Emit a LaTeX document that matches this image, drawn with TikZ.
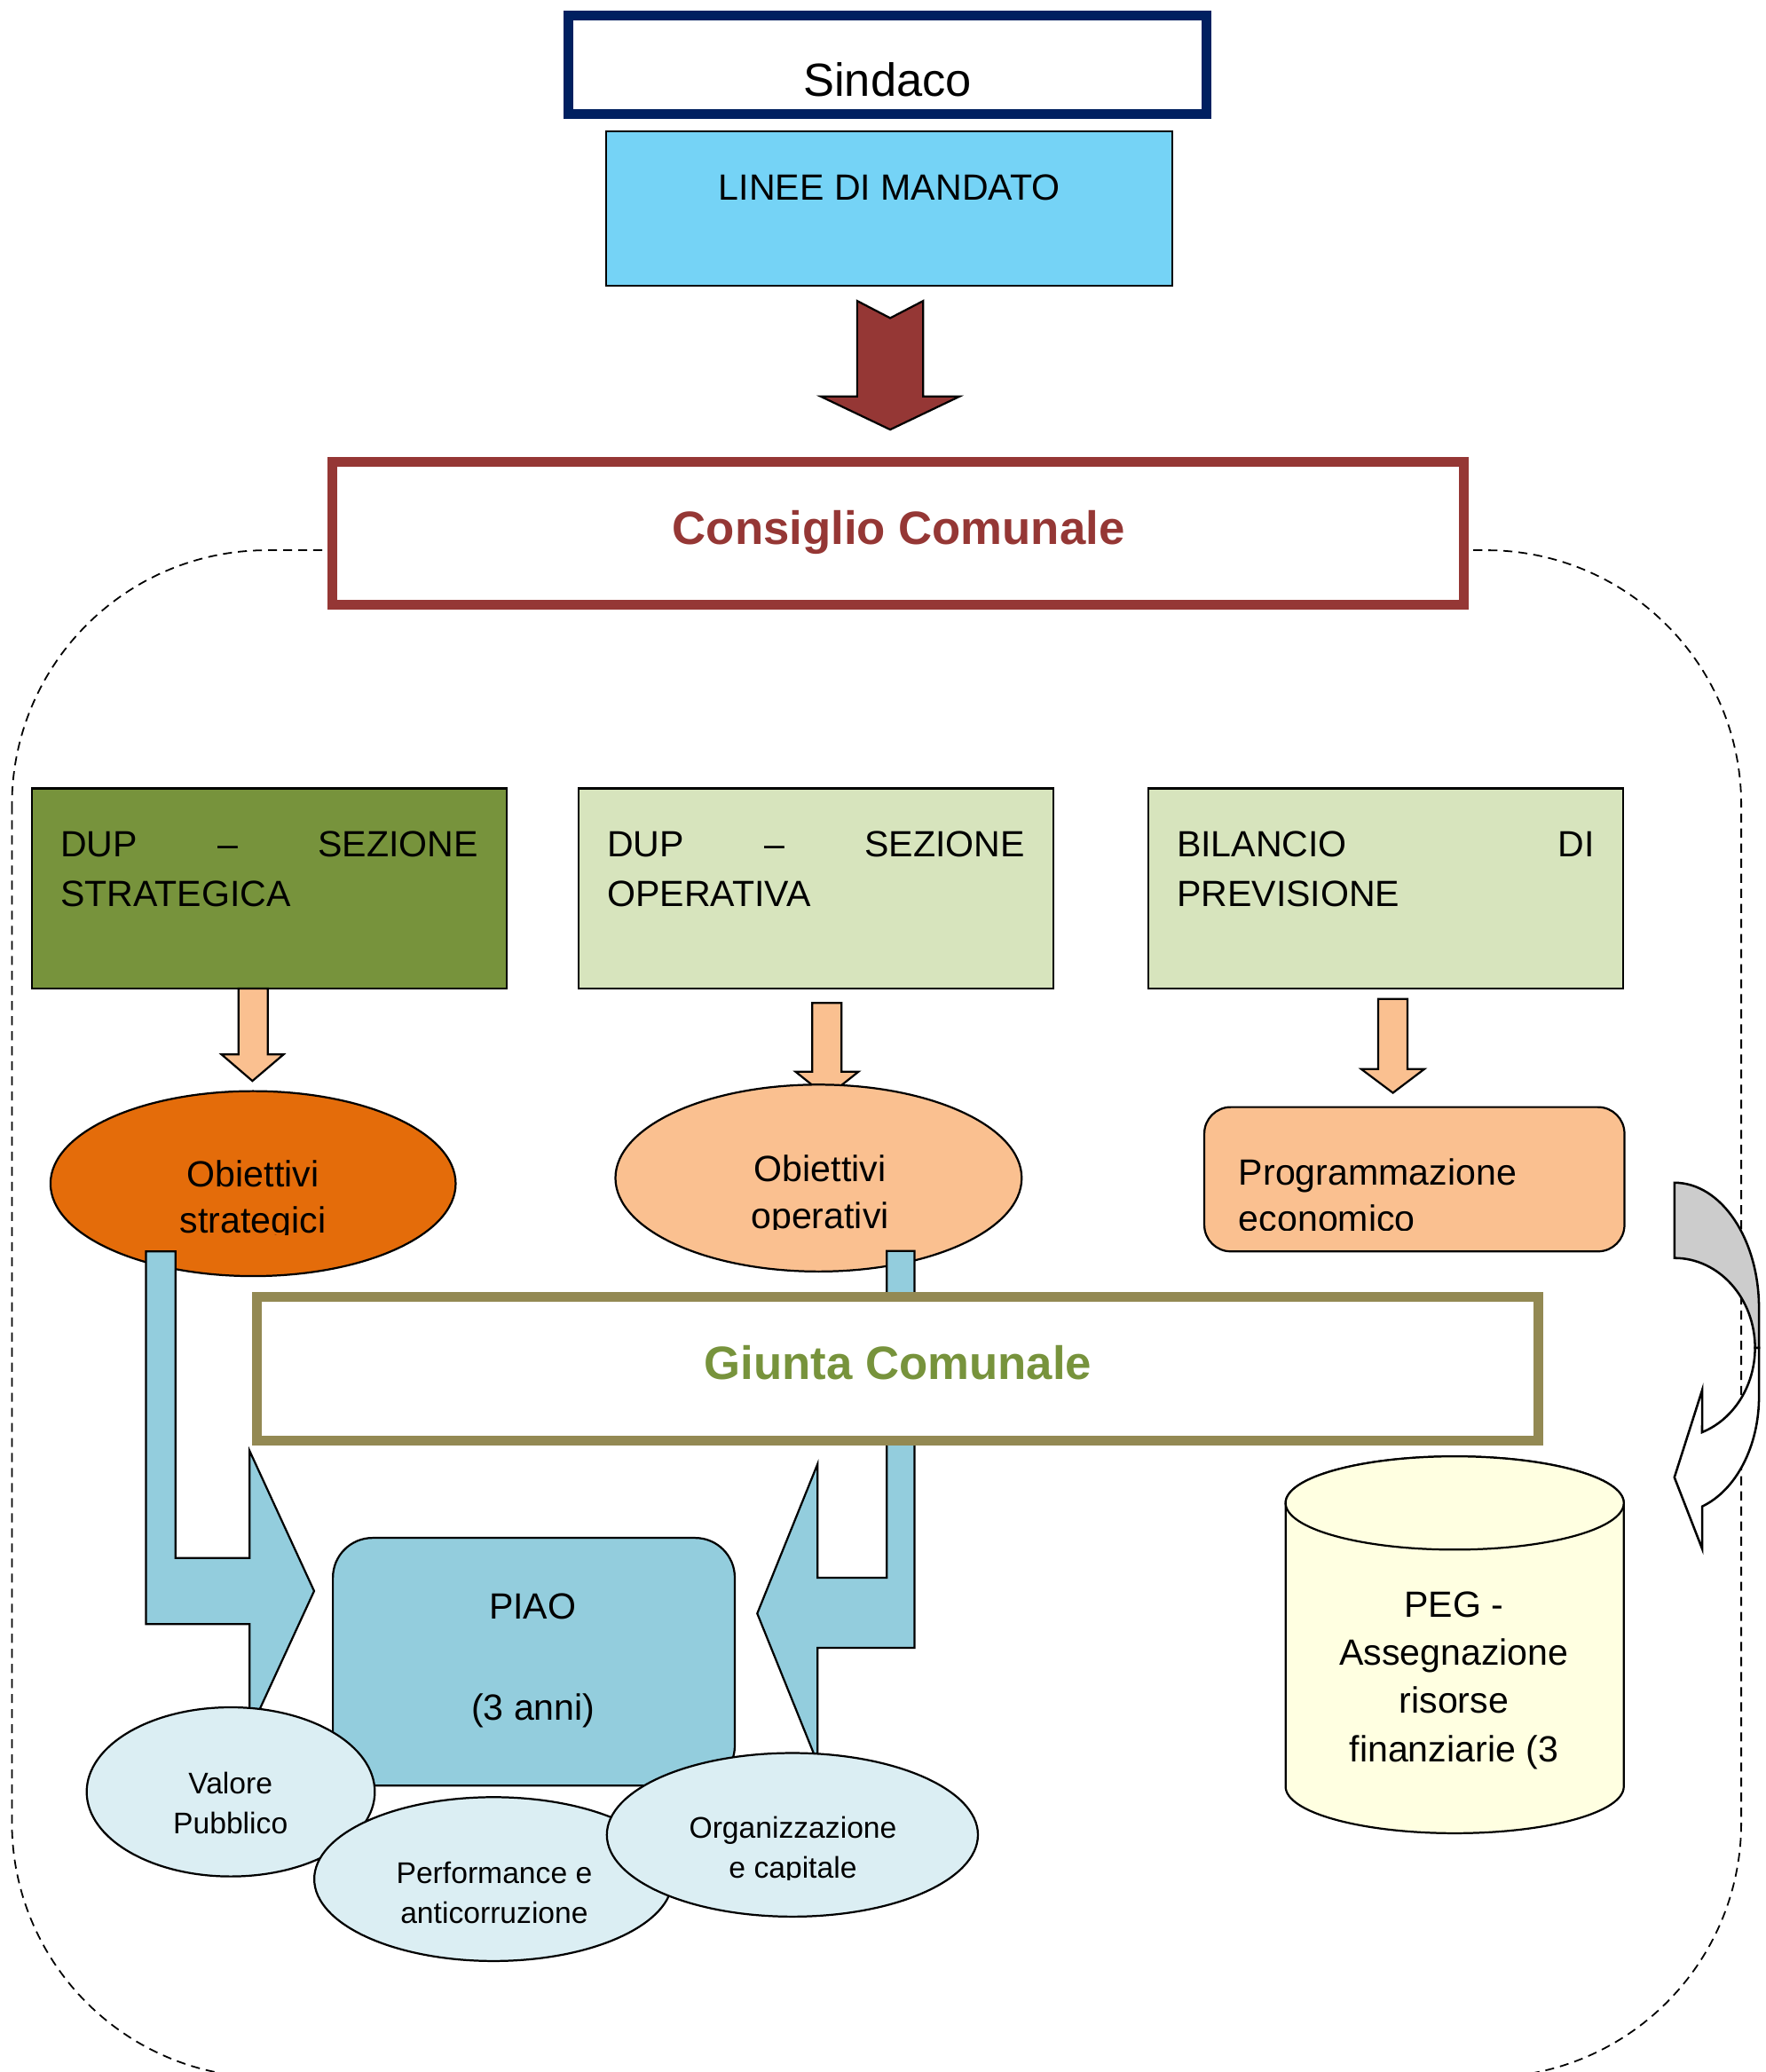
\documentclass[tikz,border=0pt]{standalone}
\usepackage{fontspec}
\setmainfont{Liberation Sans}
\usetikzlibrary{shapes.geometric}
\definecolor{navy}{RGB}{0,32,96}
\definecolor{skyb}{RGB}{117,211,246}
\definecolor{dred}{RGB}{149,55,53}
\definecolor{olivegr}{RGB}{119,147,60}
\definecolor{lgreen}{RGB}{215,228,189}
\definecolor{peach}{RGB}{250,192,144}
\definecolor{orng}{RGB}{228,108,10}
\definecolor{khaki}{RGB}{147,137,83}
\definecolor{pblue}{RGB}{147,205,221}
\definecolor{iceb}{RGB}{219,238,243}
\definecolor{cream}{RGB}{255,255,225}
\definecolor{lgray}{RGB}{204,204,204}
\newcommand\bigfs{\fontsize{17.7pt}{21pt}\selectfont}
\newcommand\midfs{\fontsize{13.8pt}{18pt}\selectfont}
\newcommand\smfs{\fontsize{11.3pt}{15pt}\selectfont}
\tikzset{
  every node/.style={outer sep=0pt},
  outl/.style={draw=black, line width=0.75pt, line join=miter},
  boxnode/.style={outl, rectangle, inner sep=0pt, outer sep=0pt, anchor=north west},
  heavybox/.style={rectangle, inner sep=0pt, outer sep=0pt, anchor=north west, fill=white, line width=3.7pt},
  ellnode/.style={outl, ellipse, inner sep=0pt, outer sep=0pt},
  txt/.style={inner sep=0pt, anchor=base},
  txtl/.style={inner sep=0pt, anchor=base west},
  blockarrow/.style={outl},
}
\begin{document}
\begin{tikzpicture}[x=0.5pt,y=-0.5pt]
\useasboundingbox (0,0) rectangle (1336,1568);
\clip (0,0) rectangle (1336,1568);

% dashed rounded frame
\draw[black, line width=0.6pt, dash pattern=on 3.4pt off 2.3pt, rounded corners=96.5pt]
  (9,416.4) rectangle (1317.6,1572);

% Sindaco
\node[heavybox, draw=navy, minimum width=241.7pt, minimum height=37.2pt] (sindaco) at (429.8,11.8) {};
\node[txt] (sindacot) at (671.5,72.8) {\fontsize{17.6pt}{21pt}\selectfont Sindaco};

% Linee di mandato
\node[boxnode, fill=skyb, minimum width=214.1pt, minimum height=58.2pt] (linee) at (458.8,99.6) {};
\node[txt] (lineet) at (673,151.2) {\midfs LINEE DI MANDATO};

% red down arrow
\draw[blockarrow, fill=dred] (648.6,227.7) -- (673.6,240.7) -- (698.6,227.7) -- (698.6,300)
  -- (726.1,300) -- (673.6,325.1) -- (621,300) -- (648.6,300) -- cycle;

% Consiglio Comunale
\node[heavybox, draw=dred, minimum width=428.1pt, minimum height=54.1pt] (consiglio) at (251.7,349.6) {};
\node[txt, text=dred] (consigliot) at (680,412) {\bigfs\bfseries Consiglio Comunale};

% three top boxes
\node[boxnode, fill=olivegr, minimum width=179.5pt, minimum height=75.6pt] (dups) at (24.2,596.7) {};
\node[boxnode, fill=lgreen, minimum width=179.5pt, minimum height=75.6pt] (dupo) at (438,596.7) {};
\node[boxnode, fill=lgreen, minimum width=179.5pt, minimum height=75.6pt] (bil) at (869,596.7) {};
\node[txtl] (dupst1) at (45.7,648.2) {\midfs\hbox to 158pt{DUP\hfill–\hfill SEZIONE}};
\node[txtl] (dupst2) at (45.7,686.2) {\midfs STRATEGICA};
\node[txtl] (dupot1) at (459.5,648.2) {\midfs\hbox to 158pt{DUP\hfill–\hfill SEZIONE}};
\node[txtl] (dupot2) at (459.5,686.2) {\midfs OPERATIVA};
\node[txtl] (bilt1) at (890.5,648.2) {\midfs\hbox to 158pt{BILANCIO\hfill DI}};
\node[txtl] (bilt2) at (890.5,686.2) {\midfs PREVISIONE};

% peach arrows
\draw[blockarrow, fill=peach] (180.5,748) -- (202.6,748) -- (202.6,798) -- (214.5,798) -- (191,818)
  -- (167.7,798) -- (180.5,798) -- cycle;
\draw[blockarrow, fill=peach] (614.6,759) -- (636.8,759) -- (636.8,811) -- (649.6,811) -- (625.7,830)
  -- (602,811) -- (614.6,811) -- cycle;
\draw[blockarrow, fill=peach] (1042.8,756) -- (1065,756) -- (1065,809) -- (1077.8,809) -- (1054,827)
  -- (1030,809) -- (1042.8,809) -- cycle;

% objectives
\node[ellnode, fill=orng, minimum width=153.3pt, minimum height=70pt] (ostr) at (191.5,895.7) {};
\node[ellnode, fill=peach, minimum width=153.7pt, minimum height=70.7pt] (oope) at (619.4,891.5) {};
\node[boxnode, fill=peach, rounded corners=10pt, minimum width=158.95pt, minimum height=54.6pt] (prog) at (911.3,837.8) {};
\begin{scope}
  \clip (30,850) rectangle (360,934.5);
  \node[txt] (ostrt1) at (191.5,898) {\midfs Obiettivi};
  \node[txt] (ostrt2) at (191.5,933) {\midfs strategici};
\end{scope}
\begin{scope}
  \clip (460,850) rectangle (780,930.5);
  \node[txt] (oopet1) at (620.5,894) {\midfs Obiettivi};
  \node[txt] (oopet2) at (620.5,929.5) {\midfs operativi};
\end{scope}
\begin{scope}
  \clip (915,850) rectangle (1225,931);
  \node[txtl] (progt1) at (937.4,897) {\midfs Programmazione};
  \node[txtl] (progt2) at (937.4,932) {\midfs economico};
\end{scope}

% blue bent arrows
\draw[blockarrow, fill=pblue] (110.5,947) -- (132.8,947) -- (132.8,1179) -- (188.9,1179) -- (188.9,1098)
  -- (237.7,1204) -- (188.9,1310) -- (188.9,1229) -- (110.5,1229) -- cycle;
\draw[blockarrow, fill=pblue] (692,946.7) -- (671,946.7) -- (671,1194) -- (618.6,1194) -- (618.6,1108)
  -- (573,1221) -- (618.6,1334) -- (618.6,1247) -- (692,1247) -- cycle;

% Giunta Comunale
\node[heavybox, draw=khaki, minimum width=484.8pt, minimum height=54.1pt] (giunta) at (194.3,981.7) {};
\node[txt, text=olivegr] (giuntat) at (679.5,1044) {\bigfs\bfseries Giunta Comunale};

% PIAO
\node[boxnode, fill=pblue, rounded corners=15pt, minimum width=152.05pt, minimum height=93.7pt] (piao) at (251.9,1163.8) {};
\node[txt] (piaot1) at (403,1225) {\midfs PIAO};
\node[txt] (piaot2) at (403.5,1302) {\midfs (3 anni)};

% small ellipses
\node[ellnode, fill=iceb, minimum width=109pt, minimum height=64pt] (valore) at (174.6,1356) {};
\node[txt] (valoret1) at (174.4,1357.5) {\smfs Valore};
\node[txt] (valoret2) at (174.4,1387.5) {\smfs Pubblico};
\node[ellnode, fill=iceb, minimum width=135.6pt, minimum height=62pt] (perf) at (373.4,1422) {};
\node[txt] (perft1) at (374,1425) {\smfs Performance e};
\node[txt] (perft2) at (374,1455.3) {\smfs anticorruzione};
\node[ellnode, fill=iceb, minimum width=140.4pt, minimum height=61.9pt] (org) at (599.6,1388.5) {};
\begin{scope}
  \clip (470,1360) rectangle (730,1422.5);
  \node[txt] (orgt1) at (600,1391) {\smfs Organizzazione};
  \node[txt] (orgt2) at (600,1421) {\smfs e capitale};
\end{scope}

% PEG cylinder
\draw[outl, fill=cream] (972.8,1137.4) -- (972.8,1352)
  arc[start angle=180, end angle=360, x radius=63.975pt, y radius=17.65pt]
  -- (1228.7,1137.4)
  arc[start angle=0, end angle=180, x radius=63.975pt, y radius=17.65pt] -- cycle;
\node[ellnode, fill=cream, minimum width=127.95pt, minimum height=35.3pt] (pegtop) at (1100.75,1137.4) {};
\node[txt] (pegt1) at (1100.2,1223.6) {\midfs PEG -};
\node[txt] (pegt2) at (1100.2,1260) {\midfs Assegnazione};
\node[txt] (pegt3) at (1100.2,1296.5) {\midfs risorse};
\node[txt] (pegt4) at (1100.2,1333) {\midfs finanziarie (3};

% curved left arrow
\draw[outl, line width=0.85pt, fill=white] (1328,1020)
  arc[start angle=0, end angle=-69.9, x radius=30.5pt, y radius=34pt]
  -- (1288,1052) -- (1267,1118) -- (1288,1172) -- (1288,1140)
  arc[start angle=-70.85, end angle=0, x radius=32pt, y radius=44pt]
  -- (1331,1020) -- cycle;
\draw[outl, line width=0.85pt, fill=lgray] (1267,895)
  arc[start angle=90, end angle=0, x radius=32pt, y radius=47.5pt]
  -- (1331,1020) -- (1328,1020)
  arc[start angle=0, end angle=90, x radius=30.5pt, y radius=34pt] -- cycle;
\end{tikzpicture}
\end{document}
